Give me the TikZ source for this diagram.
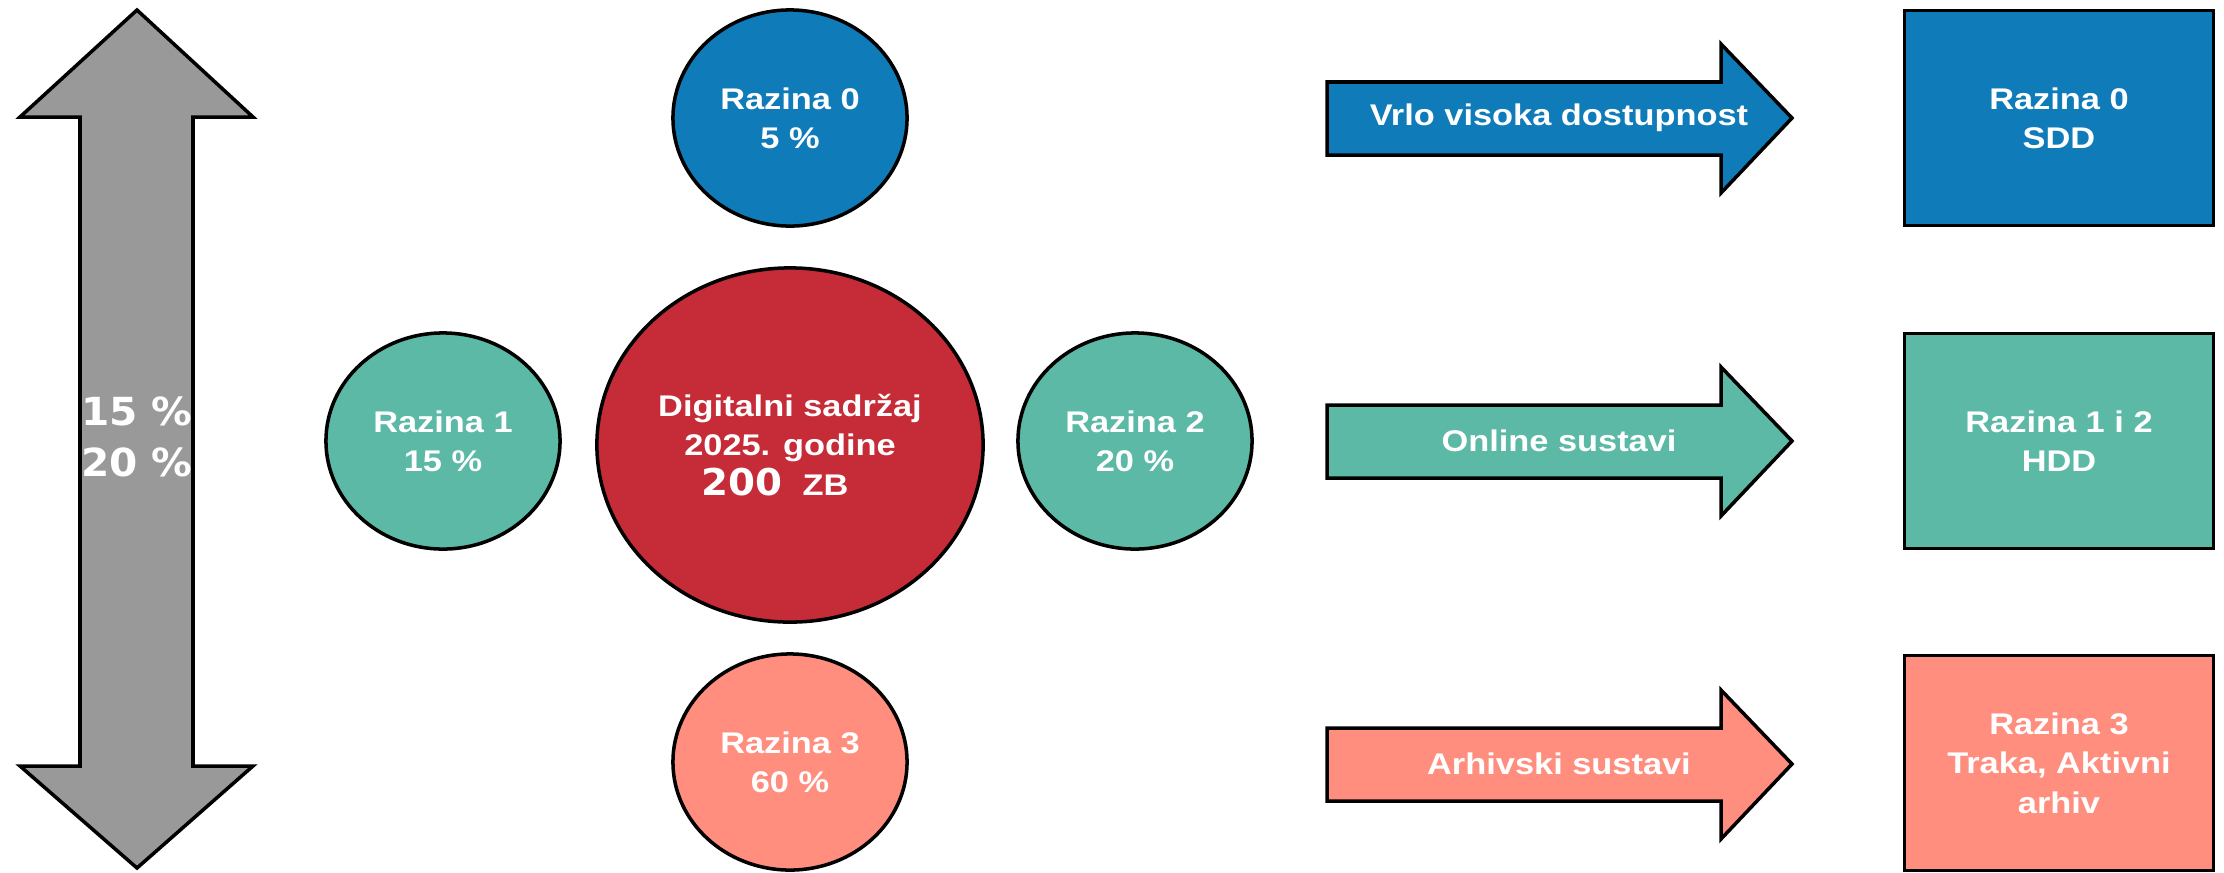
\documentclass[tikz,border=0pt]{standalone}
\usepackage{fontspec}
\setmainfont{Liberation Sans}[FakeStretch=1.15]
\newfontfamily\numfont{DejaVu Sans}[FakeStretch=1.05]
\usetikzlibrary{shapes.geometric}
\definecolor{tierBlue}{HTML}{0F7BB9}
\definecolor{tierTeal}{HTML}{5BB9A6}
\definecolor{tierSalmon}{HTML}{FF8E7F}
\definecolor{tierRed}{HTML}{C62B38}
\definecolor{tierGrey}{HTML}{999999}

\begin{document}
\begin{tikzpicture}[x=0.01cm, y=-0.01cm,
  level/.style={ellipse, draw=black, line width=1pt, minimum width=2.34cm, minimum height=2.16cm, inner sep=0pt, align=center, text=white, font=\bfseries\fontsize{8.5}{11.2}\selectfont},
  tierbox/.style={rectangle, draw=black, line width=1pt, minimum width=3.09cm, minimum height=2.15cm, inner sep=0pt, align=center, text=white, font=\bfseries\fontsize{8.5}{11.2}\selectfont},
  band/.style={draw=black, line width=1pt},
  bandtext/.style={text=white, inner sep=0pt, font=\bfseries\fontsize{8.5}{11.2}\selectfont}
]
  \useasboundingbox (0,0) rectangle (2224,872);

  % share arrow on the left
  \draw[band, fill=tierGrey] (137,10) -- (253,117) -- (193,117) -- (193,766) -- (253,766)
    -- (137,868) -- (20,766) -- (80,766) -- (80,117) -- (20,117) -- cycle;
  \node[text=white, align=center, font=\numfont\bfseries\fontsize{11}{14.5}\selectfont] (share) at (137,437) {15 \%\\20 \%};

  % levels round the total
  \node[level, fill=tierRed, minimum width=3.86cm, minimum height=3.54cm] (total) at (790,445) {
    Digitalni sadržaj\\
    2025. godine\\
    {\numfont\fontsize{10.5}{11.2}\selectfont 200}\hspace{0.2cm}ZB\hspace{0.3cm}
  };
  \node[level, fill=tierBlue] (lvl0) at (790,118) {Razina 0\\5 \%};
  \node[level, fill=tierTeal] (lvl1) at (443,441) {Razina 1\\15 \%};
  \node[level, fill=tierTeal] (lvl2) at (1135,441) {Razina 2\\20 \%};
  \node[level, fill=tierSalmon] (lvl3) at (790,762) {Razina 3\\60 \%};

  % block arrows
  \draw[band, fill=tierBlue] (1327,82) -- (1721,82) -- (1721,44) -- (1792,118) -- (1721,193) -- (1721,155) -- (1327,155) -- cycle;
  \node[bandtext] (fast) at (1559,118) {Vrlo visoka dostupnost};

  \draw[band, fill=tierTeal] (1327,405) -- (1721,405) -- (1721,367) -- (1792,441) -- (1721,516) -- (1721,478) -- (1327,478) -- cycle;
  \node[bandtext] (online) at (1559,441) {Online sustavi};

  \draw[band, fill=tierSalmon] (1327,728) -- (1721,728) -- (1721,690) -- (1792,764) -- (1721,839) -- (1721,801) -- (1327,801) -- cycle;
  \node[bandtext] (archive) at (1559,764) {Arhivski sustavi};

  % storage media
  \node[tierbox, fill=tierBlue] (sdd) at (2059,118) {Razina 0\\SDD};
  \node[tierbox, fill=tierTeal] (hdd) at (2059,441) {Razina 1 i 2\\HDD};
  \node[tierbox, fill=tierSalmon] (tape) at (2059,763) {Razina 3\\Traka, Aktivni\\arhiv};
\end{tikzpicture}
\end{document}
